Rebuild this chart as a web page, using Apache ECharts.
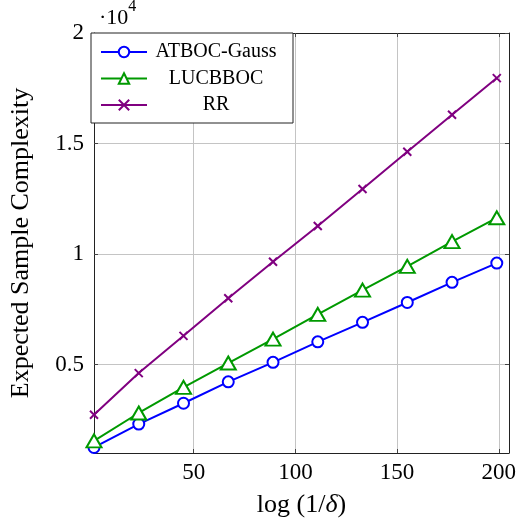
<!DOCTYPE html>
<html>
<head>
<meta charset="utf-8">
<script src="https://cdn.jsdelivr.net/npm/echarts@6/dist/echarts.min.js"></script>
<style>
html,body{margin:0;padding:0;background:#fff;}
#c{width:519px;height:524px;}
</style>
</head>
<body>
<div id="c"></div>
<script>
// ---- data ----
const xValues = [1, 23, 45, 67, 89, 111, 133, 155, 177, 199];
const atbocGauss = [1250, 2310, 3250, 4220, 5100, 6030, 6910, 7810, 8720, 9590];
const lucbboc = [1550, 2810, 3970, 5070, 6150, 7270, 8370, 9440, 10560, 11640];
const rr = [2730, 4615, 6300, 8000, 9650, 11270, 12940, 14630, 16300, 17960];
const xTicks = [50, 100, 150, 200];
const yTicks = [5000, 10000, 15000, 20000];
const seriesNames = ['ATBOC-Gauss', 'LUCBBOC', 'RR'];

const FONT = '"Liberation Serif", "DejaVu Serif", serif';
const pairs = arr => xValues.map((x, i) => [x, arr[i]]);

const chart = echarts.init(document.getElementById('c'), null, {renderer: 'canvas'});

const frameLine = {show: true, onZero: false, lineStyle: {color: '#222', width: 1}};
const tickStyle = {show: true, inside: true, length: 4, lineStyle: {color: '#444', width: 1}};
const gridStyle = {show: true, lineStyle: {color: '#c4c4c4', width: 1}};

chart.setOption({
  animation: false,
  backgroundColor: '#fff',
  grid: {left: 91, right: 8, top: 33, bottom: 71, containLabel: false},
  legend: {
    orient: 'vertical',
    left: 91,
    top: 33,
    data: seriesNames,
    backgroundColor: '#fff',
    borderColor: '#222',
    borderWidth: 1,
    borderRadius: 0,
    padding: [9, 13, 8, 9],
    itemWidth: 46,
    itemHeight: 13,
    itemGap: 6.5,
    formatter: name => '{t|' + name + '}',
    textStyle: {
      color: '#000',
      rich: {t: {width: 128, align: 'center', fontSize: 20, lineHeight: 20, fontFamily: FONT, color: '#000'}}
    },
    z: 10
  },
  xAxis: [{
    type: 'value', min: 1, max: 205, position: 'bottom',
    name: '{r|log (1/}{i|δ}{r|)}',
    nameLocation: 'middle', nameGap: 39,
    nameTextStyle: {rich: {
      r: {fontSize: 26, fontFamily: FONT, color: '#000'},
      i: {fontSize: 26, fontFamily: FONT, fontStyle: 'italic', color: '#000'}
    }},
    axisLine: frameLine,
    axisTick: Object.assign({customValues: xTicks}, tickStyle),
    axisLabel: {customValues: xTicks, margin: 8, fontSize: 23, fontFamily: FONT, color: '#000'},
    splitLine: gridStyle
  }, {
    type: 'value', min: 1, max: 205, position: 'top',
    axisLine: frameLine,
    axisTick: Object.assign({customValues: xTicks}, tickStyle),
    axisLabel: {show: false},
    splitLine: {show: false}
  }],
  yAxis: [{
    type: 'value', min: 1000, max: 20000, position: 'left',
    name: 'Expected Sample Complexity',
    nameLocation: 'middle', nameGap: 60,
    nameTextStyle: {fontSize: 26, fontFamily: FONT, color: '#000'},
    axisLine: frameLine,
    axisTick: Object.assign({customValues: yTicks}, tickStyle),
    axisLabel: {
      customValues: yTicks, margin: 10, fontSize: 23, fontFamily: FONT, color: '#000',
      formatter: v => String(v / 10000)
    },
    splitLine: gridStyle
  }, {
    type: 'value', min: 1000, max: 20000, position: 'right',
    axisLine: frameLine,
    axisTick: Object.assign({customValues: yTicks}, tickStyle),
    axisLabel: {show: false},
    splitLine: {show: false}
  }],
  graphic: [{
    type: 'text', left: 99, top: -1,
    style: {
      text: '{b|·10}{s|4}',
      rich: {
        b: {fontSize: 22, fontFamily: FONT, fill: '#000', verticalAlign: 'bottom', lineHeight: 30},
        s: {fontSize: 16, fontFamily: FONT, fill: '#000', verticalAlign: 'top', lineHeight: 30}
      }
    }
  }],
  series: [{
    name: 'ATBOC-Gauss', type: 'line', data: pairs(atbocGauss),
    symbol: 'emptyCircle', symbolSize: 11,
    itemStyle: {color: '#0000ff', borderWidth: 2},
    lineStyle: {color: '#0000ff', width: 2},
    z: 2
  }, {
    name: 'LUCBBOC', type: 'line', data: pairs(lucbboc),
    symbol: 'emptyTriangle', symbolSize: [15, 13],
    itemStyle: {color: '#009900', borderWidth: 2},
    lineStyle: {color: '#009900', width: 2},
    z: 3
  }, {
    name: 'RR', type: 'line', data: pairs(rr),
    symbol: 'path://M0 0L10 10M10 0L0 10', symbolSize: 8,
    itemStyle: {color: '#800080', borderColor: '#800080', borderWidth: 2},
    lineStyle: {color: '#800080', width: 2},
    z: 4
  }]
});
</script>
</body>
</html>
